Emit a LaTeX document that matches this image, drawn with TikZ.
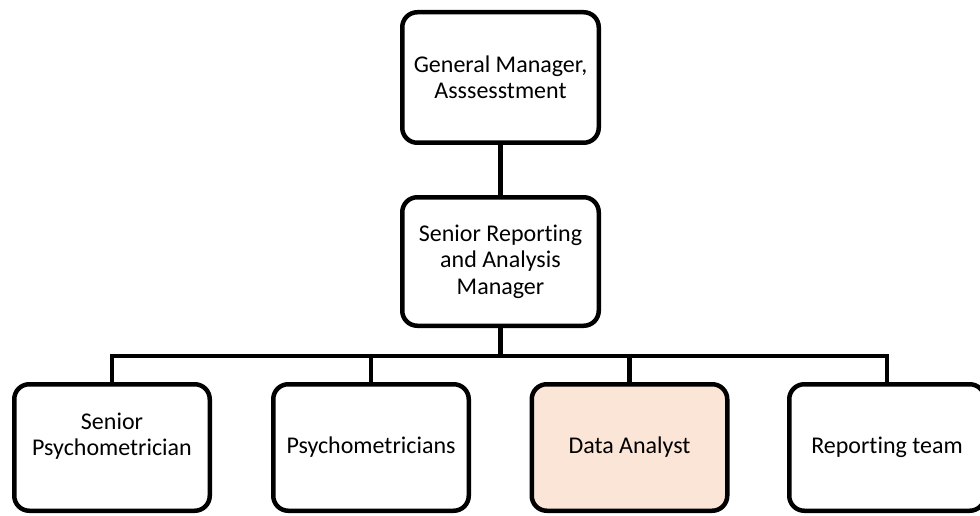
\documentclass[tikz,border=0pt]{standalone}
\usepackage{fontspec}
\setmainfont[Ligatures=NoCommon]{Carlito}
\usetikzlibrary{positioning}
\definecolor{peach}{HTML}{FBE5D6}

\begin{document}
\begin{tikzpicture}[x=1pt,y=-1pt,
    role/.style={draw,line width=4.5pt,rounded corners=15pt,fill=white,
      align=center,font=\fontsize{24}{26.5}\selectfont,
      minimum width=195.5pt,minimum height=126.5pt,inner sep=2pt},
    link/.style={line width=4.5pt}]
  \useasboundingbox (0,0) rectangle (980,516);
  % upper levels
  \node[role,minimum width=196.5pt,minimum height=130.5pt] (gm) at (500.5,77.5)
    {General Manager,\\Asssesstment};
  \node[role,minimum width=196.5pt,minimum height=128.5pt] (srm) at (500.5,261.5)
    {Senior Reporting\\and Analysis\\Manager};
  % staff row
  \node[role] (sp) at (112,447.5) {Senior\\Psychometrician\\\mbox{}};
  \node[role] (ps) at (371,447.5) {Psychometricians};
  \node[role,fill=peach] (da) at (629.5,447.5) {Data Analyst};
  \node[role] (rt) at (887,447.5) {Reporting team};
  % connectors
  \coordinate (bus) at (500.5,356);
  \draw[link] (gm.south) -- (srm.north);
  \draw[link] (srm.south) -- (srm.south |- bus);
  \draw[link] (sp.north) |- (rt.north |- bus) -- (rt.north);
  \draw[link] (ps.north) -- (ps.north |- bus);
  \draw[link] (da.north) -- (da.north |- bus);
\end{tikzpicture}
\end{document}
